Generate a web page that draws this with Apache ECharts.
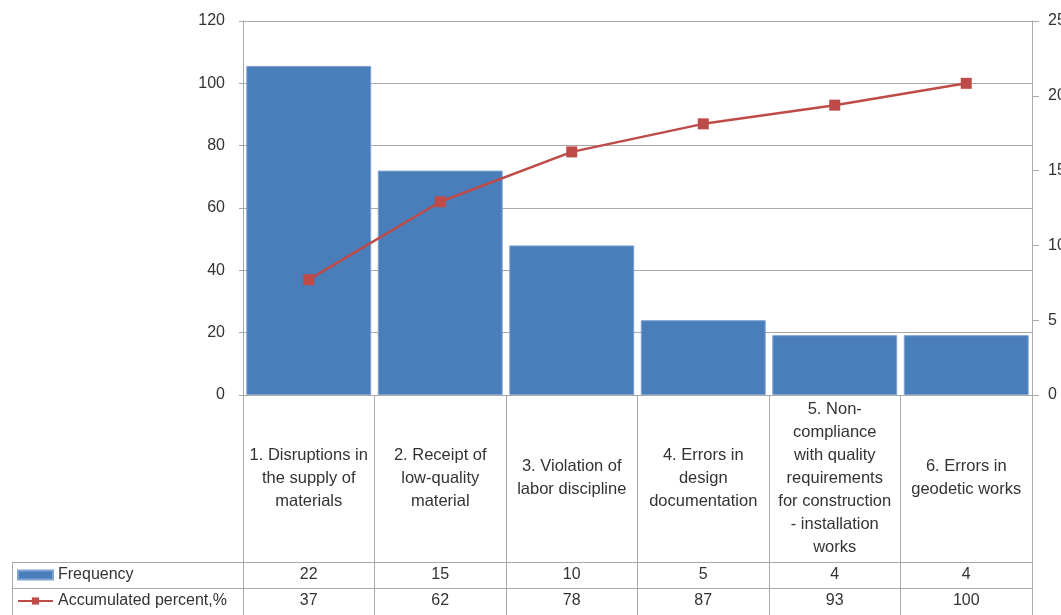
<!DOCTYPE html>
<html>
<head>
<meta charset="utf-8">
<title>Pareto chart of construction quality defects</title>
<script src="https://cdn.jsdelivr.net/npm/echarts@6/dist/echarts.min.js"></script>
<style>
  html, body { margin: 0; padding: 0; background: #fff; }
  #chart { width: 1061px; height: 615px; }
</style>
</head>
<body>
<div id="chart"></div>
<script>
// Causes of defects (line breaks follow the table cells)
const categories = [
  '1. Disruptions in\nthe supply of\nmaterials',
  '2. Receipt of\nlow-quality\nmaterial',
  '3. Violation of\nlabor discipline',
  '4. Errors in\ndesign\ndocumentation',
  '5. Non-\ncompliance\nwith quality\nrequirements\nfor construction\n- installation\nworks',
  '6. Errors in\ngeodetic works'
];
// Number of occurrences per cause
const frequency = [22, 15, 10, 5, 4, 4];
// Running total share, %
const accumulated = [37, 62, 78, 87, 93, 100];

const seriesNames = ['Frequency', 'Accumulated percent,%'];

const FONT = 'Liberation Sans, Arial, sans-serif';
const TEXT = '#333333';
const GRID_LINE = '#a9a9a9';

// plot area in px
const PLOT = { left: 243, right: 1032, top: 21, bottom: 395 };
const ROW1 = 562, ROW2 = 588, TABLE_BOTTOM = 615, TABLE_LEFT = 12;

const chart = echarts.init(document.getElementById('chart'), null, { renderer: 'canvas' });

// one row of the data table under the plot, drawn as an extra category axis
const valueRow = (values, offset) => ({
  type: 'category',
  position: 'bottom',
  offset: offset,
  data: values.map(String),
  axisLine: { show: true, onZero: false, lineStyle: { color: GRID_LINE, width: 1 } },
  axisTick: { show: false },
  splitLine: { show: false },
  axisLabel: {
    interval: 0,
    margin: 13,
    verticalAlign: 'middle',
    color: TEXT,
    fontFamily: FONT,
    fontSize: 16
  }
});

chart.setOption({
  animation: false,
  backgroundColor: '#ffffff',
  grid: {
    left: PLOT.left,
    right: 1061 - PLOT.right,
    top: PLOT.top,
    bottom: 615 - PLOT.bottom,
    containLabel: false,
    outerBoundsMode: 'none'
  },
  legend: {
    orient: 'vertical',
    left: 17,
    top: 567,
    padding: 0,
    height: 60,
    itemWidth: 35,
    itemHeight: 9,
    itemGap: 10,
    selectedMode: false,
    textStyle: { color: TEXT, fontFamily: FONT, fontSize: 16, lineHeight: 16 },
    data: [
      { name: seriesNames[0], icon: 'rect' },
      { name: seriesNames[1] }
    ]
  },
  xAxis: [
    {
      type: 'category',
      position: 'bottom',
      data: categories,
      axisLine: { show: true, onZero: false, lineStyle: { color: GRID_LINE, width: 1 } },
      axisTick: {
        show: true,
        interval: 0,
        alignWithLabel: false,
        length: TABLE_BOTTOM - PLOT.bottom,
        lineStyle: { color: GRID_LINE, width: 1 }
      },
      splitLine: { show: false },
      axisLabel: {
        interval: 0,
        margin: 83,
        verticalAlign: 'middle',
        align: 'center',
        color: TEXT,
        fontFamily: FONT,
        fontSize: 16.5,
        lineHeight: 23
      }
    },
    valueRow(frequency, ROW1 - PLOT.bottom),
    valueRow(accumulated, ROW2 - PLOT.bottom)
  ],
  yAxis: [
    {
      type: 'value',
      position: 'left',
      min: 0,
      max: 120,
      interval: 20,
      axisLine: { show: true, lineStyle: { color: GRID_LINE, width: 1 } },
      axisTick: { show: true, length: 4, lineStyle: { color: GRID_LINE } },
      splitLine: { show: true, lineStyle: { color: GRID_LINE, width: 1 } },
      axisLabel: { margin: 18, color: TEXT, fontFamily: FONT, fontSize: 16 }
    },
    {
      type: 'value',
      position: 'right',
      min: 0,
      max: 25,
      interval: 5,
      axisLine: { show: true, lineStyle: { color: GRID_LINE, width: 1 } },
      axisTick: { show: true, length: 7, lineStyle: { color: GRID_LINE } },
      splitLine: { show: false },
      axisLabel: { margin: 16, color: TEXT, fontFamily: FONT, fontSize: 16 }
    }
  ],
  series: [
    {
      name: seriesNames[0],
      type: 'bar',
      xAxisIndex: 0,
      yAxisIndex: 1,
      data: frequency,
      barCategoryGap: '5%',
      itemStyle: { color: '#4a7ebb', borderColor: '#7fa3d2', borderWidth: 1 },
      z: 2
    },
    {
      name: seriesNames[1],
      type: 'line',
      xAxisIndex: 0,
      yAxisIndex: 0,
      data: accumulated,
      symbol: 'rect',
      symbolSize: 11,
      lineStyle: { color: '#be4b48', width: 2.5 },
      itemStyle: { color: '#be4b48' },
      z: 3
    }
  ],
  graphic: [
    // row-header cells of the data table
    { type: 'line', shape: { x1: TABLE_LEFT, y1: ROW1 + 0.5, x2: PLOT.left, y2: ROW1 + 0.5 },
      style: { stroke: GRID_LINE, lineWidth: 1 } },
    { type: 'line', shape: { x1: TABLE_LEFT, y1: ROW2 + 0.5, x2: PLOT.left, y2: ROW2 + 0.5 },
      style: { stroke: GRID_LINE, lineWidth: 1 } },
    { type: 'line', shape: { x1: TABLE_LEFT + 0.5, y1: ROW1, x2: TABLE_LEFT + 0.5, y2: TABLE_BOTTOM },
      style: { stroke: GRID_LINE, lineWidth: 1 } }
  ]
});
</script>
</body>
</html>
